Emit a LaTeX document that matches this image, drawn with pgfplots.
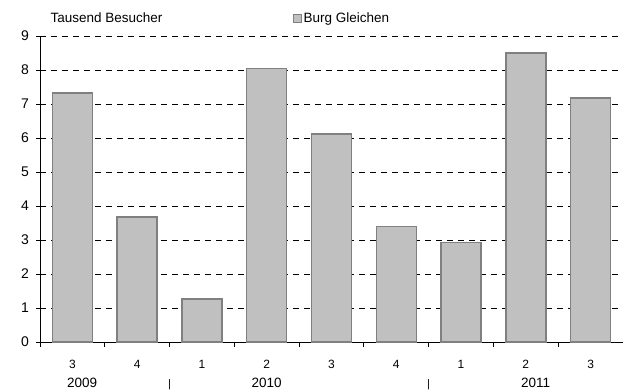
\documentclass[border=0pt]{standalone}
\usepackage{pgfplots}
\pgfplotsset{compat=1.18}
\usepackage{fontspec}
\setmainfont{Liberation Sans}
\definecolor{barfill}{HTML}{C0C0C0}
\definecolor{baredge}{HTML}{808080}
\begin{document}
\begin{tikzpicture}[x=1pt,y=1pt]
\useasboundingbox (0,0) rectangle (623,390);
\begin{axis}[
  at={(40pt,48pt)}, anchor=south west,
  scale only axis, width=583pt, height=306pt,
  xmin=-0.5, xmax=8.5, ymin=0, ymax=9,
  axis x line=bottom, axis y line=left,
  axis line style={-, black, line width=0.8pt},
  ybar, bar width=40pt,
  xtick={0,...,8},
  xticklabels={3,4,1,2,3,4,1,2,3},
  minor xtick={-0.5,0.5,...,8.5},
  major x tick style={draw=none},
  minor x tick style={black, line width=0.8pt},
  xtick align=outside, minor tick length=5pt,
  ytick={0,...,9},
  ytick align=center, major tick length=7pt,
  major y tick style={black, line width=0.8pt},
  ymajorgrids,
  grid style={black, line width=0.7pt, dash pattern=on 6pt off 5pt},
  /pgf/number format/assume math mode=true,
  xticklabel style={font=\fontsize{12}{14}\selectfont, yshift=-8pt},
  yticklabel style={font=\fontsize{14}{16}\selectfont, xshift=-4pt},
  clip=false,
  legend style={at={(0.434,1.058)}, anchor=west, draw=none, fill=none,
     font=\fontsize{13.5}{15}\selectfont, inner sep=0pt},
]
\addplot[fill=barfill, draw=baredge, line width=1.5pt,
  legend image code/.code={\draw[fill=barfill, draw=baredge, line width=1pt] (0pt,-3.8pt) rectangle (7.5pt,3.8pt);}] coordinates {
(0,7.32) (1,3.67) (2,1.26) (3,8.04) (4,6.12) (5,3.4) (6,2.93) (7,8.5) (8,7.17)};
\addlegendentry{Burg Gleichen}
\node[anchor=base west, font=\fontsize{13.5}{15}\selectfont] at (rel axis cs:0,1) [xshift=7pt,yshift=13pt] {Tausend Besucher};
\node[anchor=base, font=\fontsize{13.5}{15}\selectfont] at (axis cs:0.15,0) [yshift=-45.5pt] {2009};
\node[anchor=base, font=\fontsize{11}{12}\selectfont] at (axis cs:1.5,0) [yshift=-45.5pt] {|};
\node[anchor=base, font=\fontsize{13.5}{15}\selectfont] at (axis cs:3.0,0) [yshift=-45.5pt] {2010};
\node[anchor=base, font=\fontsize{11}{12}\selectfont] at (axis cs:5.5,0) [yshift=-45.5pt] {|};
\node[anchor=base, font=\fontsize{13.5}{15}\selectfont] at (axis cs:7.15,0) [yshift=-45.5pt] {2011};
\end{axis}
\end{tikzpicture}
\end{document}
